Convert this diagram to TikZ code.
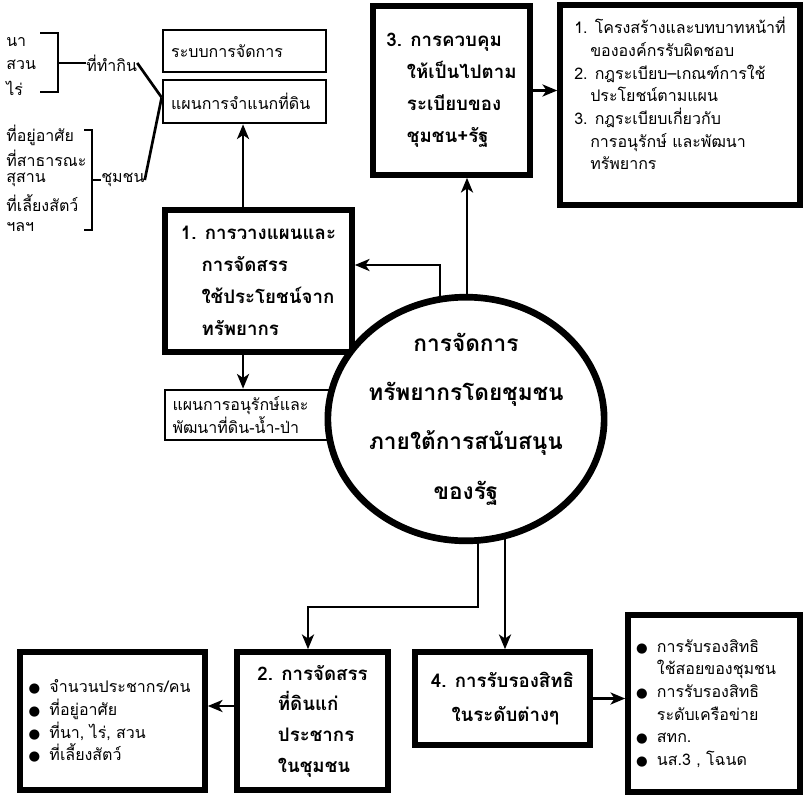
\documentclass[tikz,border=0pt]{standalone}
\usepackage{fontspec}
\setmainfont[Script=Thai]{Loma}
\newfontfamily\dv{DejaVu Sans}
\usetikzlibrary{arrows.meta,shapes.geometric,backgrounds}
\newcommand{\bul}{{\dv\fontsize{10}{10}\selectfont ●}\hspace{7pt}}
\newcommand{\hang}{\hspace*{1.1em}}
\begin{document}
\begin{tikzpicture}[x=0.75pt,y=-0.75pt,
  arr/.style={line width=2pt,-{Stealth[length=11pt,width=9pt,inset=3pt]}},
  plain/.style={line width=2pt},
  brk/.style={line width=2pt},
  thinbox/.style={draw,line width=2pt,inner sep=0pt,fill=white},
  thickbox/.style={draw,line width=4.2pt,inner sep=0pt,fill=white},
  reg/.style={font=\fontsize{12}{17}\selectfont},
  big/.style={font=\bfseries\fontsize{14}{24}\selectfont,align=left},
  lbl/.style={reg,anchor=west,inner sep=0pt},
]
\useasboundingbox (0,0) rectangle (805,795);

% top-left small boxes
\node[thinbox,reg,minimum width=122.25pt,minimum height=31.5pt,text width=110pt,align=left] (sys) at (244.5,51) {ระบบการจัดการ};
\node[thinbox,reg,minimum width=122.25pt,minimum height=32.25pt,text width=110pt,align=left] (plan) at (244.5,101.5) {แผนการจำแนกที่ดิน};

% box 1
\node[thickbox,big,minimum width=140.25pt,minimum height=106.5pt] (b1) at (258.5,281)
  {1. การวางแผนและ\\\hang การจัดสรร\\\hang ใช้ประโยชน์จาก\\\hang ทรัพยากร};

% conservation plan
\node[thinbox,reg,minimum width=131.25pt,minimum height=37.5pt,text width=120pt,align=left] (cons) at (252.5,415)
  {แผนการอนุรักษ์และ\\พัฒนาที่ดิน-น้ำ-ป่า};

% box 3
\node[thickbox,big,minimum width=117.75pt,minimum height=126.75pt] (b3) at (451.5,90.5)
  {3. การควบคุม\\\hang ให้เป็นไปตาม\\\hang ระเบียบของ\\\hang ชุมชน+รัฐ};

% top-right list
\node[thickbox,reg,minimum width=180pt,minimum height=150pt,align=left] (tr) at (680,105)
  {1. โครงสร้างและบทบาทหน้าที่\\\hspace*{1em}ขององค์กรรับผิดชอบ\\2. กฎระเบียบ–เกณฑ์การใช้\\\hspace*{1em}ประโยชน์ตามแผน\\3. กฎระเบียบเกี่ยวกับ\\\hspace*{1em}การอนุรักษ์ และพัฒนา\\\hspace*{1em}ทรัพยากร\\\mbox{}};

% central circle
\node[ellipse,draw,line width=5pt,fill=white,inner sep=0pt,minimum width=148pt,minimum height=180pt,
  font=\bfseries\fontsize{17}{37}\selectfont,align=center] (circ) at (466,419)
  {การจัดการ\\ทรัพยากรโดยชุมชน\\ภายใต้การสนับสนุน\\ของรัฐ};

% bottom boxes
\node[thickbox,reg,minimum width=138.75pt,minimum height=103.5pt,text width=126pt,align=left] (bl) at (112.5,721)
  {\bul จำนวนประชากร/คน\\\bul ที่อยู่อาศัย\\\bul ที่นา, ไร่, สวน\\\bul ที่เลี้ยงสัตว์};
\node[thickbox,big,minimum width=113.25pt,minimum height=103.5pt,font=\bfseries\fontsize{14}{23}\selectfont] (b2) at (312.5,721)
  {2. การจัดสรร\\\hang ที่ดินแก่\\\hang ประชากร\\\hang ในชุมชน};
\node[thickbox,big,minimum width=131.25pt,minimum height=69.75pt,font=\bfseries\fontsize{14}{26}\selectfont] (b4) at (502.5,698.5)
  {4. การรับรองสิทธิ\\\hang ในระดับต่างๆ};
\node[thickbox,reg,minimum width=129pt,minimum height=132.75pt,text width=117pt,align=left] (br) at (714,703.5)
  {\bul การรับรองสิทธิ\\\phantom{\bul}ใช้สอยของชุมชน\\\bul การรับรองสิทธิ\\\phantom{\bul}ระดับเครือข่าย\\\bul สทก.\\\bul นส.3 , โฉนด};

% left labels
\node[lbl] (na) at (6,42) {นา};
\node[lbl] (suan) at (6,65) {สวน};
\node[lbl] (rai) at (6,88) {ไร่};
\node[lbl] (tk) at (86,63) {ที่ทำกิน};
\node[lbl] (l1) at (6,135) {ที่อยู่อาศัย};
\node[lbl] (l2) at (6,158) {ที่สาธารณะ};
\node[lbl] (l3) at (6,180) {สุสาน};
\node[lbl] (l4) at (6,203) {ที่เลี้ยงสัตว์};
\node[lbl] (l5) at (6,227) {ฯลฯ};
\node[lbl] (cc) at (101,180) {ชุมชน};

% brackets
\draw[brk] (40,33) -- (58,33) -- (58,92) -- (40,92);
\draw[brk] (58,63) -- (tk.west);
\draw[brk] (84,130) -- (92,130) -- (92,230) -- (84,230);
\draw[brk] (92,180) -- (cc.west);
\draw[plain] (tk.east) -- ([yshift=3pt]plan.west);
\draw[plain] (cc.east) -- ([yshift=3pt]plan.west);

\coordinate (j2) at (308,607);
\begin{scope}[on background layer]
\draw[arr] ([xshift=-11.6pt]b1.north) -- ([xshift=-11.6pt]b1.north |- plan.south);
\draw[arr] ([xshift=-11.6pt]b1.south) -- ([xshift=-11.6pt]b1.south |- cons.north);
\draw[arr] ([xshift=0.75pt]circ.center) -- ([xshift=0.75pt]circ.center |- b3.south);
\draw[arr] ([xshift=-19.5pt]circ.center) |- ([yshift=12pt]b1.east);
\draw[arr] ([xshift=9pt]circ.center) |- (j2) -- (j2 |- b2.north);
\draw[arr] ([xshift=29.25pt]circ.center) -- ([xshift=29.25pt]circ.center |- b4.north);
\draw[arr] (b3.east) -- (b3.east -| tr.west);
\draw[arr] (b4.east) -- (b4.east -| br.west);
\draw[arr] ([yshift=11.25pt]b2.west) -- ([yshift=11.25pt]b2.west -| bl.east);
\end{scope}
\end{tikzpicture}
\end{document}
